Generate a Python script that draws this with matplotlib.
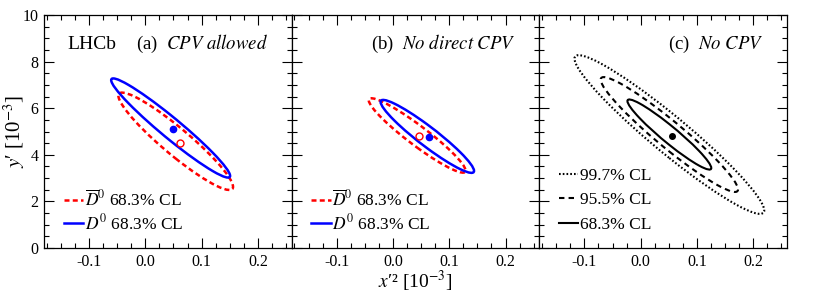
import numpy as np
import matplotlib
matplotlib.use("Agg")
import matplotlib.pyplot as plt
from matplotlib.patches import Ellipse
from matplotlib.lines import Line2D
from matplotlib.transforms import Affine2D
from matplotlib.ticker import MultipleLocator

plt.rcParams["font.family"] = ["Liberation Serif", "DejaVu Serif"]
plt.rcParams["mathtext.fontset"] = "stix"
plt.rcParams["axes.unicode_minus"] = False

# -------------------------
# Data (x'^2 and y' in units of 1e-3)
# -------------------------
PANEL_TAGS = ["(a)", "(b)", "(c)"]
PANEL_TITLES = ["CPV allowed", "No direct CPV", "No CPV"]

# panels (a), (b): best-fit points
D0_BEST_X = [0.049, 0.064]
D0_BEST_Y = [5.09, 4.75]
D0BAR_BEST_X = [0.061, 0.046]
D0BAR_BEST_Y = [4.52, 4.82]

# 68.3% CL contours, Gaussian approx: centre, sigma_x, sigma_y, correlation
D0_CX = [0.045, 0.061]
D0_CY = [5.15, 4.79]
D0_SX = [0.0695, 0.0546]
D0_SY = [1.40, 1.03]
D0_RHO = [-0.965, -0.945]

D0BAR_CX = [0.054, 0.043]
D0BAR_CY = [4.58, 4.83]
D0BAR_SX = [0.067, 0.0566]
D0BAR_SY = [1.375, 1.05]
D0BAR_RHO = [-0.935, -0.945]

# panel (c): no CPV
NOCPV_BEST_X = 0.055
NOCPV_BEST_Y = 4.82
NOCPV_CX = 0.051
NOCPV_CY = 4.87
NOCPV_SX = 0.049
NOCPV_SY = 0.99
NOCPV_RHO = -0.955
CL_LABELS = ["99.7% CL", "95.5% CL", "68.3% CL"]
CL_K = [3.44, 2.49, 1.52]  # sqrt(chi2) for 2 dof

XLIM = (-0.18, 0.26)
YLIM = (0, 10)


def contour(ax, cx, cy, sx, sy, rho, k, **kw):
    # unit circle of radius k mapped through the covariance (Cholesky) matrix
    m = Affine2D.from_values(sx, sy * rho, 0.0, sy * np.sqrt(1 - rho ** 2), cx, cy)
    e = Ellipse((0, 0), 2 * k, 2 * k, fill=False, transform=m + ax.transData, **kw)
    ax.add_patch(e)
    return e


W, H = 830, 293
fig = plt.figure(figsize=(W / 100, H / 100), dpi=100)

left, right, top, bottom = 44, 787, 15, 248
pw = (right - left) / 3.0
axes = []
for i in range(3):
    ax = fig.add_axes([(left + i * pw) / W, (H - bottom) / H, pw / W, (bottom - top) / H])
    ax.set_xlim(*XLIM)
    ax.set_ylim(*YLIM)
    ax.xaxis.set_major_locator(MultipleLocator(0.1))
    ax.xaxis.set_minor_locator(MultipleLocator(0.025))
    ax.yaxis.set_major_locator(MultipleLocator(2))
    ax.yaxis.set_minor_locator(MultipleLocator(0.5))
    ax.tick_params(which="both", direction="in", top=True, right=True, width=0.8, labelsize=11.5)
    ax.tick_params(which="major", length=7, pad=4)
    ax.tick_params(which="minor", length=3.5)
    for s in ax.spines.values():
        s.set_linewidth(0.9)
    if i > 0:
        ax.set_yticklabels([])
    ax.text(0.218, 8.75, PANEL_TAGS[i] + r"  $\mathit{" + PANEL_TITLES[i].replace(" ", r"\ ") + "}$",
            ha="right", va="center", fontsize=13.5)
    axes.append(ax)

axes[0].text(-0.138, 8.75, "LHCb", ha="left", va="center", fontsize=14)

red_dash = dict(color="red", lw=1.8, linestyle=(0, (2.0, 1.3)))
blue_solid = dict(color="blue", lw=1.8, linestyle="-")

for i in range(2):
    ax = axes[i]
    contour(ax, D0BAR_CX[i], D0BAR_CY[i], D0BAR_SX[i], D0BAR_SY[i], D0BAR_RHO[i], CL_K[2], **red_dash)
    contour(ax, D0_CX[i], D0_CY[i], D0_SX[i], D0_SY[i], D0_RHO[i], CL_K[2], **blue_solid)
    ax.plot(D0_BEST_X[i], D0_BEST_Y[i], "o", color="blue", ms=4.5, zorder=5)
    ax.plot(D0BAR_BEST_X[i], D0BAR_BEST_Y[i], "o", mfc="white", mec="red", mew=1.0, ms=5, zorder=5)
    handles = [Line2D([], [], **red_dash), Line2D([], [], **blue_solid)]
    labels = [r"$\overline{D}^0$ 68.3% CL", r"$D^0$ 68.3% CL"]
    ax.legend(handles, labels, loc="lower left", bbox_to_anchor=(0.08, 0.062), frameon=False,
              fontsize=12.5, handlelength=1.1, handletextpad=0.1, labelspacing=0.2,
              borderpad=0, borderaxespad=0)

ax = axes[2]
styles = [(0, (0.8, 1.0)), (0, (2.6, 2.0)), "-"]
handles = []
for k, ls in zip(CL_K, styles):
    kw = dict(color="black", lw=1.5, linestyle=ls)
    contour(ax, NOCPV_CX, NOCPV_CY, NOCPV_SX, NOCPV_SY, NOCPV_RHO, k, **kw)
    handles.append(Line2D([], [], **kw))
ax.plot(NOCPV_BEST_X, NOCPV_BEST_Y, "o", color="black", ms=4, zorder=5)
ax.legend(handles, CL_LABELS, loc="lower left", bbox_to_anchor=(0.08, 0.065), frameon=False,
          fontsize=12.5, handlelength=1.1, handletextpad=0.1, labelspacing=0.48,
          borderpad=0, borderaxespad=0)

fig.text(14 / W, 1 - 131 / H, r"$\mathit{y}$′ [10$^{-3}$]", rotation=90, ha="center", va="center", fontsize=15)
fig.text(415 / W, 1 - 281 / H, r"$\mathit{x}$′² [10$^{-3}$]", ha="center", va="center", fontsize=14)

fig.savefig("out.png", dpi=100)
